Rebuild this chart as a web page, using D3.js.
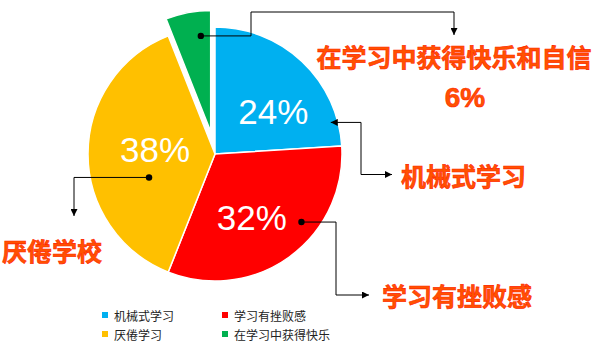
<!DOCTYPE html>
<html>
<head>
<meta charset="utf-8">
<script src="https://cdn.jsdelivr.net/npm/d3@7"></script>
<style>
  html, body { margin: 0; padding: 0; background: #fff; }
  svg { display: block; }
</style>
</head>
<body>
<svg id="chart" width="600" height="350"></svg>
<script>
// Survey shares: attitudes toward learning
const categories = ["机械式学习", "学习有挫败感", "厌倦学习", "在学习中获得快乐"];
const values = [24, 32, 38, 6];
const sliceColors = ["#00B0F0", "#FF0000", "#FFC000", "#00B050"];
const calloutTexts = ["机械式学习", "学习有挫败感", "厌倦学校", "在学习中获得快乐和自信"];

const W = 600, H = 350;
const cx = 215, cy = 154, R = 127;
const svg = d3.select("#chart");

// marker for callout arrows
svg.append("defs").append("marker")
  .attr("id", "arrow")
  .attr("viewBox", "0 0 10 10")
  .attr("refX", 10).attr("refY", 5)
  .attr("markerWidth", 7).attr("markerHeight", 7)
  .attr("markerUnits", "userSpaceOnUse")
  .attr("orient", "auto")
  .append("path").attr("d", "M0,0 L10,5 L0,10 Z").attr("fill", "#000");

const pie = d3.pie().sort(null).value(d => d).startAngle(0).endAngle(2 * Math.PI);
const arcs = pie(values);

const arcMain = d3.arc().innerRadius(0).outerRadius(R);
const arcSmall = d3.arc().innerRadius(0).outerRadius(121);
const explode = [0, 0, 0, 23];   // pull the last slice out of the pie

const g = svg.append("g").attr("transform", `translate(${cx},${cy})`);

function sliceOffset(d, i) {
  const a = (d.startAngle + d.endAngle) / 2;
  return [Math.sin(a) * explode[i], -Math.cos(a) * explode[i]];
}
function polar(d, i, t, r) {
  const a = d.startAngle + t * (d.endAngle - d.startAngle);
  const o = sliceOffset(d, i);
  return [cx + o[0] + Math.sin(a) * r, cy + o[1] - Math.cos(a) * r];
}

g.selectAll("path.slice")
  .data(arcs)
  .join("path")
  .attr("class", "slice")
  .attr("d", (d, i) => explode[i] ? arcSmall(d) : arcMain(d))
  .attr("transform", (d, i) => `translate(${sliceOffset(d, i)})`)
  .attr("fill", (d, i) => sliceColors[i])
  .attr("stroke", "#fff")
  .attr("stroke-width", 1.5)
  .attr("stroke-linejoin", "round");

// percentage labels inside the three large slices
const pctPos = [[0.625, 72], [0.55, 73], [0.53, 60]];
arcs.slice(0, 3).forEach((d, i) => {
  const p = polar(d, i, pctPos[i][0], pctPos[i][1]);
  svg.append("text")
    .attr("x", p[0]).attr("y", p[1])
    .attr("text-anchor", "middle")
    .attr("dominant-baseline", "central")
    .attr("font-family", "'Liberation Sans', Arial, sans-serif")
    .attr("font-size", 35)
    .attr("fill", "#fff")
    .text(values[i] + "%");
});

// callouts: anchor on the slice, then an elbow route to the label
const anchors = [[0.865, 120], [0.363, 110], [0.357, 70], [0.727, 96]];
const routes = [
  p => [[361, p[1]], [361, 174.5], [392, 174.5]],
  p => [[336, p[1]], [336, 295], [369, 295]],
  p => [[74, p[1]], [74, 216]],
  p => [[251, p[1]], [251, 12], [454, 12], [454, 35]]
];
const lineGen = d3.line();

arcs.forEach((d, i) => {
  const p = polar(d, i, anchors[i][0], anchors[i][1]);
  const pts = routes[i](p);
  if (i === 0) {
    // arrow points back into the slice
    svg.append("path")
      .attr("d", lineGen([pts[2], pts[1], pts[0], p]))
      .attr("fill", "none").attr("stroke", "#000").attr("stroke-width", 1)
      .attr("marker-end", "url(#arrow)");
    svg.append("path")
      .attr("d", lineGen([[pts[1][0], pts[1][1]], pts[2]]))
      .attr("fill", "none").attr("stroke", "#000").attr("stroke-width", 1)
      .attr("marker-end", "url(#arrow)");
  } else {
    svg.append("path")
      .attr("d", lineGen([p].concat(pts)))
      .attr("fill", "none").attr("stroke", "#000").attr("stroke-width", 1)
      .attr("marker-end", "url(#arrow)");
    svg.append("circle")
      .attr("cx", p[0]).attr("cy", p[1]).attr("r", 3.2)
      .attr("fill", "#000");
  }
});

// callout label text
const calloutFont = "'Noto Sans CJK SC', 'Noto Sans', sans-serif";
const calloutPos = [
  { x: 401, y: 175, anchor: "start" },
  { x: 382, y: 295, anchor: "start" },
  { x: 2, y: 250, anchor: "start" },
  { x: 454, y: 56, anchor: "middle" }
];
calloutTexts.forEach((t, i) => {
  svg.append("text")
    .attr("x", calloutPos[i].x).attr("y", calloutPos[i].y)
    .attr("text-anchor", calloutPos[i].anchor)
    .attr("dominant-baseline", "central")
    .attr("font-family", calloutFont)
    .attr("font-weight", "bold")
    .attr("font-size", 25)
    .attr("fill", "#FF5200")
    .attr("stroke", "#FF2200")
    .attr("stroke-width", 0.6)
    .text(t);
});
svg.append("text")
  .attr("x", 465).attr("y", 97)
  .attr("text-anchor", "middle")
  .attr("dominant-baseline", "central")
  .attr("font-family", "'Liberation Sans', Arial, sans-serif")
  .attr("font-weight", "bold")
  .attr("font-size", 28)
  .attr("fill", "#FF5200")
  .attr("stroke", "#FF2200")
  .attr("stroke-width", 0.6)
  .text(values[3] + "%");

// legend, two columns
const legendX = [102, 222], legendY = [315, 334];
const legend = svg.append("g");
categories.forEach((c, i) => {
  const col = i % 2, row = Math.floor(i / 2);
  const item = legend.append("g")
    .attr("transform", `translate(${legendX[col]},${legendY[row]})`);
  item.append("rect")
    .attr("x", 0).attr("y", -3).attr("width", 6).attr("height", 6)
    .attr("fill", sliceColors[i]);
  item.append("text")
    .attr("x", 12).attr("y", 0)
    .attr("dominant-baseline", "central")
    .attr("font-family", calloutFont)
    .attr("font-size", 12)
    .attr("fill", "#222")
    .text(c);
});
</script>
</body>
</html>
